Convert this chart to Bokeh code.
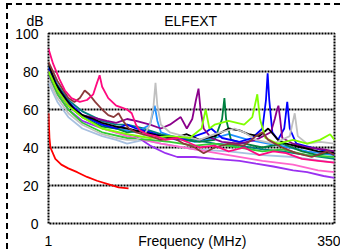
from bokeh.plotting import figure
from bokeh.models import Range1d, FixedTicker
from bokeh.embed import file_html
from bokeh.resources import INLINE

# ---------------- data ----------------
y_ticks = [0, 20, 40, 60, 80, 100]
x_ticks = [1, 19, 350]
x_tick_labels = {1: "1", 19: "Frequency (MHz)", 350: "350"}
title_left = "dB"
title_main = "ELFEXT"

pink_f  = [1, 1.1, 1.25, 1.4, 1.6, 1.9, 2.2, 2.5, 2.7, 2.85, 3.0, 3.4, 4.0, 4.5, 5.0, 5.5, 6.0, 6.5, 7.5, 9, 11, 14, 17, 22, 30, 40, 55, 75, 100, 130, 180, 250, 350]
pink_db = [92, 84, 76, 70, 66, 64, 65, 68, 74, 78, 72, 66, 62, 61, 60, 58, 52, 49, 47, 46, 44, 45, 43, 40, 41, 38, 40, 36, 38, 37, 34, 33, 32]

brown_f  = [1, 1.2, 1.5, 1.7, 1.9, 2.1, 2.3, 2.6, 3.0, 3.4, 3.8, 4.2, 4.6, 5.2, 6, 8, 10, 13, 16, 20, 24, 30, 40, 55, 70, 80, 90, 120, 160, 220, 300, 350]
brown_db = [85, 75, 66, 64, 66, 70, 68, 64, 60, 57, 56, 58, 54, 50, 48, 46, 44, 45, 42, 40, 37, 40, 42, 41, 46, 48, 44, 40, 37, 35, 38, 36]

black_f  = [1, 1.15, 1.3, 1.45, 1.7, 2, 2.5, 3, 4, 5, 7, 10, 13, 17, 22, 30, 40, 50, 60, 75, 90, 110, 130, 180, 250, 350]
black_db = [84, 74, 69, 65, 60, 57, 55, 53, 51, 50, 48, 46, 45, 47, 44, 46, 50, 49, 47, 46, 50, 44, 42, 40, 38, 37]

purple_f  = [1, 1.2, 1.5, 2, 2.8, 3.3, 4, 5, 6, 8, 10, 12, 15, 17, 19, 20.5, 21.6, 22.5, 24, 28, 35, 50, 70, 95, 103, 108, 111, 115, 120, 150, 200, 280, 350]
purple_db = [80, 70, 62, 57, 55, 54, 53, 55, 54, 52, 50, 52, 56, 50, 55, 65, 71, 60, 50, 45, 43, 42, 44, 48, 55, 60, 62, 55, 45, 42, 40, 39, 38]

blue_f  = [1, 1.2, 1.5, 2, 3, 4, 5, 6, 8, 10, 14, 18, 25, 28, 35, 50, 65, 80, 86, 89, 92, 98, 110, 125, 133, 140, 160, 220, 300, 350]
blue_db = [82, 72, 64, 57, 52, 50, 52, 50, 48, 46, 44, 45, 48, 50, 45, 43, 45, 50, 65, 79, 65, 48, 44, 50, 64, 50, 42, 40, 38, 36]

green_f  = [1, 1.2, 1.5, 2, 3, 4, 5, 7, 9, 12, 16, 22, 30, 35, 36.7, 38, 42, 55, 80, 120, 180, 250, 350]
green_db = [80, 70, 62, 56, 51, 50, 48, 49, 47, 46, 44, 43, 44, 55, 66, 55, 44, 42, 40, 42, 38, 36, 38]

lime_f  = [1, 1.2, 1.5, 2, 3, 5, 8, 12, 18, 23, 25, 27, 30, 40, 55, 65, 72, 76, 85, 110, 150, 200, 260, 320, 350]
lime_db = [80, 70, 62, 56, 50, 47, 45, 46, 45, 50, 60, 50, 52, 54, 52, 56, 68, 55, 45, 42, 44, 42, 44, 47, 44]

lime2_f  = [1, 1.2, 1.5, 2, 3, 5, 8, 12, 20, 30, 50, 80, 120, 200, 350]
lime2_db = [79, 68, 60, 53, 48, 45, 44, 43, 41, 42, 40, 38, 39, 36, 35]

grey_f  = [1, 1.2, 1.5, 2, 3, 4, 5, 6, 7, 8, 8.6, 8.95, 9.3, 10, 12, 16, 22, 30, 45, 55, 70, 100, 140, 155, 165, 200, 260, 350]
grey_db = [76, 66, 58, 52, 47, 45, 44, 44, 46, 52, 62, 74, 62, 52, 48, 46, 44, 47, 50, 48, 44, 42, 46, 58, 46, 42, 43, 42]

dodger_f  = [1, 1.2, 1.5, 2, 3, 4, 6, 8, 8.8, 9.3, 10, 14, 20, 30, 40, 60, 90, 140, 200, 350]
dodger_db = [82, 72, 63, 57, 52, 50, 48, 52, 62, 54, 48, 45, 43, 45, 47, 44, 42, 40, 38, 36]

teal_f  = [1, 1.2, 1.5, 2, 3, 4, 5, 7, 10, 15, 20, 30, 50, 80, 120, 200, 350]
teal_db = [83, 73, 65, 59, 54, 52, 52, 50, 47, 45, 44, 42, 41, 39, 38, 36, 34]

violet_f  = [1, 1.2, 1.5, 2, 3, 4, 6, 8, 11, 14, 20, 30, 50, 70, 100, 150, 200, 280, 350]
violet_db = [78, 68, 60, 54, 50, 48, 46, 41, 37, 35, 35, 34, 33, 31.5, 30, 28, 27, 25, 24]

hotpink_f  = [1, 1.5, 2, 3, 5, 10, 20, 40, 80, 150, 250, 350]
hotpink_db = [80, 62, 56, 50, 46, 42, 39, 36, 33, 31, 28, 27]

steel_f  = [1, 1.2, 1.5, 2, 3, 4, 5, 7, 10, 20, 40, 80, 150, 350]
steel_db = [74, 64, 56, 50, 46, 44, 42, 44, 42, 39, 38, 36, 35, 32]

red_f  = [1, 1.02, 1.04, 1.15, 1.3, 1.5, 1.8, 2.2, 2.7, 3.5, 4.2, 5.15]
red_db = [58, 45, 40, 34, 31, 29, 27, 24.5, 22.5, 20.5, 19, 18.5]

series = [
    (steel_f, steel_db, "#A8C0E0"),
    (violet_f, violet_db, "#9A30F0"),
    (hotpink_f, hotpink_db, "#FF66CC"),
    (teal_f, teal_db, "#008080"),
    (lime2_f, lime2_db, "#33CC33"),
    (dodger_f, dodger_db, "#1E90FF"),
    (green_f, green_db, "#008040"),
    (blue_f, blue_db, "#0000FF"),
    (purple_f, purple_db, "#8B008B"),
    (black_f, black_db, "#000000"),
    (grey_f, grey_db, "#C0C0C0"),
    (lime_f, lime_db, "#80FF00"),
    (brown_f, brown_db, "#8B3A3A"),
    (pink_f, pink_db, "#FF0A7F"),
    (red_f, red_db, "#FF0000"),
]

FONT = "Liberation Sans"
FS = "14px"

p = figure(width=334, height=246, x_axis_type="log",
           x_range=Range1d(1, 350), y_range=Range1d(0, 100),
           output_backend="svg", toolbar_location=None,
           min_border_left=40, min_border_right=8,
           min_border_top=28, min_border_bottom=28,
           background_fill_color="white", border_fill_color="white")

# one title line: "dB" at the left, "ELFEXT" over the centre (non-breaking spaces keep the gap)
p.title.text = title_left + "\u00a0" * 31 + title_main
p.title.align = "left"
p.title.offset = -22
p.title.standoff = 9
p.title.text_font = FONT
p.title.text_font_size = FS
p.title.text_font_style = "normal"
p.title.text_color = "black"

for f, db, c in series:
    p.line(f, db, line_color=c, line_width=1.8)

p.outline_line_color = "black"
p.outline_line_width = 2
p.outline_line_dash = "2 1"

p.xgrid.visible = False
p.ygrid.ticker = FixedTicker(ticks=y_ticks[1:-1])
p.ygrid.grid_line_color = "black"
p.ygrid.grid_line_width = 2
p.ygrid.grid_line_dash = "2 1"

for ax in (p.xaxis[0], p.yaxis[0]):
    ax.axis_line_color = None
    ax.major_tick_line_color = None
    ax.minor_tick_line_color = None
    ax.major_label_text_font = FONT
    ax.major_label_text_font_size = FS
    ax.major_label_text_color = "black"

p.yaxis[0].ticker = FixedTicker(ticks=y_ticks)
p.yaxis[0].major_label_standoff = 4
p.xaxis[0].ticker = FixedTicker(ticks=x_ticks)
p.xaxis[0].major_label_overrides = x_tick_labels
p.xaxis[0].major_label_standoff = 3

p.styles = {"margin-left": "6px", "margin-top": "3px",
            "border-left": "2px dashed black", "border-top": "2px dashed black"}

open("out.html", "w").write(file_html(p, INLINE))
